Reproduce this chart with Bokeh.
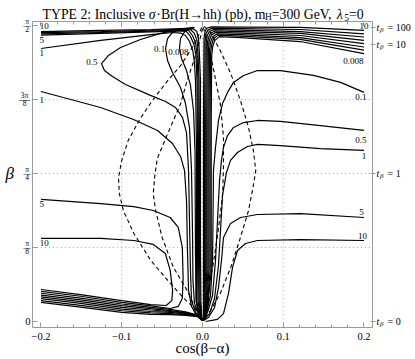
import math
from bokeh.plotting import figure
from bokeh.models import FixedTicker, LinearAxis, Label, Range1d, CustomJSTickFormatter
from bokeh.embed import file_html
from bokeh.resources import INLINE

SERIF = "Liberation Serif"

# ---------------- axis / tick data ----------------
X_LIM = (-0.21, 0.21)            # plotted cos(beta-alpha) range (frame)
B_LIM = (-0.030, 1.594)          # plotted beta range (frame)
X_MAJOR = [-0.2, -0.1, 0.0, 0.1, 0.2]
X_LABELS = ["\u22120.2", "\u22120.1", "0.0", "0.1", "0.2"]
X_MINOR = [-0.18, -0.16, -0.14, -0.12, -0.08, -0.06, -0.04, -0.02,
           0.02, 0.04, 0.06, 0.08, 0.12, 0.14, 0.16, 0.18]
B_TICKS = [0.0, math.pi / 8, math.pi / 4, 3 * math.pi / 8, math.pi / 2]
B_NUM = ["", "\u03c0", "\u03c0", "3\u03c0", "\u03c0"]
B_DEN = ["", "8", "4", "8", "2"]
TB_VALUES = [0, 1, 10, 100]
TB_LABELS = ["= 0", "= 1", "= 10", "= 100"]
GRID_X = [-0.1, 0.0, 0.1]
GRID_B = [math.pi / 8, math.pi / 4, 3 * math.pi / 8]

# ---------------- solid contours (x = cos(beta-alpha), b = beta) ----------------
TL0_X = [-0.200, -0.126, -0.064, -0.027, -0.012, -0.007, -0.005, -0.004, -0.0025, -0.0025, -0.0025, -0.002, -0.001, 0.000]
TL0_B = [1.539, 1.545, 1.550, 1.555, 1.555, 1.539, 1.502, 1.438, 1.279, 0.908, 0.377, 0.111, 0.032, 0.005]
TL1_X = [-0.200, -0.126, -0.064, -0.027, -0.015, -0.010, -0.0068, -0.0056, -0.0043, -0.0037, -0.0037, -0.0031, -0.0019, 0.000]
TL1_B = [1.533, 1.539, 1.546, 1.551, 1.550, 1.529, 1.492, 1.428, 1.279, 0.908, 0.377, 0.111, 0.032, 0.005]
TL2_X = [-0.200, -0.126, -0.064, -0.027, -0.0173, -0.0124, -0.0087, -0.0068, -0.0056, -0.0050, -0.0050, -0.0043, -0.0025, 0.000]
TL2_B = [1.527, 1.534, 1.541, 1.547, 1.545, 1.518, 1.481, 1.417, 1.279, 0.908, 0.377, 0.111, 0.032, 0.005]
TL3_X = [-0.200, -0.126, -0.064, -0.027, -0.0198, -0.0149, -0.0105, -0.0080, -0.0068, -0.0062, -0.0062, -0.0056, -0.0031, 0.000]
TL3_B = [1.520, 1.529, 1.537, 1.542, 1.539, 1.513, 1.470, 1.407, 1.279, 0.908, 0.377, 0.111, 0.032, 0.005]
TL4_X = [-0.200, -0.126, -0.064, -0.037, -0.027, -0.021, -0.016, -0.012, -0.010, -0.0087, -0.0074, -0.0074, -0.0074, -0.0037, 0.000]
TL4_B = [1.449, 1.492, 1.523, 1.534, 1.531, 1.518, 1.486, 1.438, 1.375, 1.279, 0.908, 0.377, 0.111, 0.037, 0.005]
L008_X = [-0.0124, -0.0211, -0.0272, -0.0285, -0.0260, -0.0198, -0.0149, -0.0111, -0.0093, -0.0087, -0.0080, -0.0050, 0.000]
L008_B = [1.561, 1.545, 1.502, 1.449, 1.396, 1.332, 1.253, 1.120, 0.908, 0.377, 0.111, 0.037, 0.005]
L01_X = [-0.0099, -0.0272, -0.0372, -0.0433, -0.0458, -0.0433, -0.0372, -0.0272, -0.0211, -0.0161, -0.0136, -0.0124, -0.0118, -0.0099, -0.0050, 0.000]
L01_B = [1.561, 1.553, 1.534, 1.502, 1.449, 1.385, 1.322, 1.242, 1.157, 1.030, 0.802, 0.483, 0.218, 0.096, 0.037, 0.005]
L05_X = [-0.0111, -0.0334, -0.0520, -0.0768, -0.1015, -0.1164, -0.1251, -0.1214, -0.1115, -0.0954, -0.0644,
         -0.0458, -0.0334, -0.0248, -0.0198, -0.0173, -0.0161, -0.0149, -0.0136, -0.0087, 0.000]
L05_B = [1.555, 1.545, 1.529, 1.497, 1.454, 1.412, 1.369, 1.332, 1.300, 1.258, 1.200,
         1.168, 1.136, 1.083, 1.003, 0.802, 0.536, 0.271, 0.111, 0.048, 0.005]
L1_X = [-0.200, -0.1263, -0.0854, -0.0557, -0.0372, -0.0272, -0.0223, -0.0198, -0.0186, -0.0173, -0.0136, -0.0074, 0.000]
L1_B = [1.221, 1.136, 1.072, 1.014, 0.945, 0.876, 0.802, 0.642, 0.377, 0.165, 0.080, 0.032, 0.005]
L5_X = [-0.200, -0.126, -0.085, -0.061, -0.040, -0.030, -0.025, -0.024, -0.025, -0.030, -0.040, -0.064, -0.100, -0.151, -0.200]
L5_B = [0.648, 0.626, 0.610, 0.589, 0.552, 0.499, 0.393, 0.234, 0.122, 0.080, 0.069, 0.083, 0.102, 0.134, 0.160]
L10_X = [-0.200, -0.126, -0.085, -0.061, -0.046, -0.040, -0.037, -0.038, -0.045, -0.064, -0.100, -0.151, -0.200]
L10_B = [0.441, 0.441, 0.430, 0.409, 0.361, 0.271, 0.165, 0.111, 0.085, 0.090, 0.111, 0.143, 0.170]
BUN_X = [-0.200, -0.151, -0.100, -0.064, -0.040, -0.021, -0.006, 0.000]
BUN2_B = [0.150, 0.124, 0.093, 0.075, 0.064, 0.051, 0.034, 0.005]
BUN3_B = [0.140, 0.115, 0.084, 0.068, 0.058, 0.047, 0.032, 0.005]
BUN4_B = [0.131, 0.105, 0.075, 0.061, 0.053, 0.044, 0.031, 0.005]
BUN5_B = [0.121, 0.096, 0.066, 0.053, 0.048, 0.040, 0.029, 0.005]
BUN6_B = [0.111, 0.086, 0.057, 0.046, 0.042, 0.036, 0.028, 0.005]
BUN7_B = [0.101, 0.076, 0.048, 0.038, 0.037, 0.032, 0.026, 0.005]
TR0_X = [0.200, 0.121, 0.047, 0.0110, 0.0056, 0.0031, 0.0019, 0.0012, 0.0012, 0.0012, 0.0012]
TR0_B = [1.545, 1.561, 1.563, 1.564, 1.558, 1.539, 1.502, 1.067, 0.271, 0.058, 0.005]
TR1_X = [0.200, 0.121, 0.047, 0.0125, 0.0069, 0.0045, 0.0032, 0.0026, 0.0026, 0.0019, 0.0012]
TR1_B = [1.527, 1.550, 1.555, 1.557, 1.548, 1.528, 1.489, 1.067, 0.271, 0.058, 0.005]
TR2_X = [0.200, 0.121, 0.047, 0.0139, 0.0083, 0.0058, 0.0046, 0.0040, 0.0040, 0.0026, 0.0012]
TR2_B = [1.510, 1.539, 1.547, 1.549, 1.539, 1.516, 1.476, 1.067, 0.271, 0.058, 0.005]
TR3_X = [0.200, 0.121, 0.047, 0.0152, 0.0097, 0.0072, 0.0059, 0.0053, 0.0053, 0.0033, 0.0012]
TR3_B = [1.492, 1.529, 1.539, 1.542, 1.529, 1.504, 1.462, 1.067, 0.271, 0.058, 0.005]
TR4_X = [0.200, 0.121, 0.047, 0.0166, 0.0110, 0.0085, 0.0073, 0.0067, 0.0067, 0.0040, 0.0012]
TR4_B = [1.475, 1.518, 1.531, 1.535, 1.520, 1.493, 1.449, 1.067, 0.271, 0.058, 0.005]
TR5_X = [0.200, 0.121, 0.047, 0.0180, 0.0124, 0.0099, 0.0087, 0.0080, 0.0080, 0.0046, 0.0012]
TR5_B = [1.457, 1.507, 1.523, 1.527, 1.510, 1.481, 1.436, 1.067, 0.271, 0.058, 0.005]
TR6_X = [0.200, 0.121, 0.047, 0.0193, 0.0137, 0.0113, 0.0100, 0.0094, 0.0094, 0.0053, 0.0012]
TR6_B = [1.440, 1.497, 1.515, 1.520, 1.501, 1.469, 1.423, 1.067, 0.271, 0.058, 0.005]
TR7_X = [0.200, 0.121, 0.047, 0.0207, 0.0151, 0.0126, 0.0114, 0.0108, 0.0108, 0.0060, 0.0012]
TR7_B = [1.422, 1.486, 1.507, 1.512, 1.491, 1.458, 1.409, 1.067, 0.271, 0.058, 0.005]
R01_X = [0.200, 0.171, 0.1375, 0.0966, 0.0681, 0.0508, 0.0384, 0.0310, 0.0248, 0.0198, 0.0161, 0.0136, 0.0130, 0.0124, 0.0099, 0.0050, 0.0012]
R01_B = [1.216, 1.269, 1.306, 1.332, 1.332, 1.306, 1.269, 1.216, 1.157, 1.067, 0.924, 0.802, 0.536, 0.324, 0.138, 0.048, 0.011]
R05_X = [0.200, 0.1461, 0.0966, 0.0681, 0.0508, 0.0384, 0.0310, 0.0260, 0.0235, 0.0211, 0.0186, 0.0161, 0.0124, 0.0062, 0.0012]
R05_B = [1.014, 1.040, 1.062, 1.067, 1.056, 1.030, 0.987, 0.924, 0.855, 0.748, 0.536, 0.324, 0.138, 0.048, 0.011]
R1_X = [0.200, 0.1461, 0.0966, 0.0681, 0.0557, 0.0433, 0.0347, 0.0297, 0.0248, 0.0223, 0.0198, 0.0149, 0.0087, 0.0025]
R1_B = [0.908, 0.918, 0.934, 0.940, 0.929, 0.897, 0.855, 0.791, 0.669, 0.483, 0.297, 0.122, 0.042, 0.011]
R5_X = [0.200, 0.1214, 0.0681, 0.0471, 0.0347, 0.0260, 0.0235, 0.0198, 0.0149, 0.0074, 0.0012]
R5_B = [0.552, 0.573, 0.568, 0.552, 0.520, 0.446, 0.324, 0.180, 0.074, 0.021, 0.005]
R10_X = [0.200, 0.1214, 0.0681, 0.0533, 0.0433, 0.0372, 0.0322, 0.0260, 0.0186, 0.0037]
R10_B = [0.430, 0.435, 0.430, 0.414, 0.377, 0.287, 0.149, 0.042, 0.011, 0.000]

# ---------------- dashed curves ----------------
D1_X = [-0.001, -0.006, -0.015, -0.027, -0.043, -0.062, -0.077, -0.092, -0.100, -0.104, -0.103, -0.098, -0.085, -0.064, -0.043, -0.024, -0.011, -0.002]
D1_B = [1.561, 1.507, 1.438, 1.359, 1.279, 1.173, 1.078, 0.961, 0.855, 0.764, 0.679, 0.589, 0.467, 0.324, 0.218, 0.127, 0.074, 0.032]
D2_X = [0.000, -0.005, -0.011, -0.019, -0.027, -0.043, -0.056, -0.059, -0.061, -0.058, -0.050, -0.036, -0.019, -0.009, -0.002]
D2_B = [1.555, 1.465, 1.380, 1.279, 1.157, 0.998, 0.865, 0.775, 0.679, 0.589, 0.446, 0.287, 0.165, 0.074, 0.037]
D3_X = [0.002, 0.010, 0.022, 0.035, 0.047, 0.057, 0.063, 0.066, 0.063, 0.057, 0.047, 0.035, 0.022, 0.010, 0.002]
D3_B = [1.566, 1.534, 1.438, 1.316, 1.173, 1.030, 0.908, 0.802, 0.722, 0.589, 0.446, 0.287, 0.149, 0.058, 0.016]
D4_X = [0.001, 0.006, 0.014, 0.022, 0.026, 0.026, 0.025, 0.020, 0.014, 0.007, 0.002]
D4_B = [1.561, 1.492, 1.332, 1.157, 0.977, 0.828, 0.679, 0.499, 0.324, 0.149, 0.027]

# ---------------- contour labels ----------------
CL_TEXT = ["10", "5", "1", "0.5", "1", "5", "10", "0.1", "0.008",
           "10", "0.008", "0.1", "0.5", "1", "5", "10"]
CL_X = [-0.196, -0.199, -0.199, -0.137, -0.199, -0.199, -0.196, -0.053, -0.030,
        0.200, 0.187, 0.196, 0.196, 0.200, 0.197, 0.198]
CL_B = [1.571, 1.494, 1.425, 1.375, 1.176, 0.624, 0.417, 1.446, 1.430,
        1.571, 1.385, 1.192, 0.963, 0.878, 0.581, 0.456]

# ---------------- figure: frame fills the canvas, axes fixed at the plot box ----------------
VIEW_X = (-0.25015, 0.26378)
VIEW_B = (-0.2017, 1.7038)
p = figure(width=415, height=359, x_range=Range1d(*VIEW_X), y_range=Range1d(*VIEW_B),
           x_axis_type=None, y_axis_type=None,
           output_backend="svg", toolbar_location=None, title=None, min_border=0)
p.outline_line_color = None
p.background_fill_color = "white"
p.border_fill_color = "white"

AX_COL = "#9a9a9a"
blank = CustomJSTickFormatter(code="return ''")

bottom = LinearAxis(fixed_location=B_LIM[0], bounds=X_LIM,
                    ticker=FixedTicker(ticks=X_MAJOR, minor_ticks=X_MINOR))
bottom.major_label_overrides = {v: s for v, s in zip(X_MAJOR, X_LABELS)}
bottom.major_label_text_font = SERIF
bottom.major_label_text_font_size = "10.5px"
bottom.major_label_text_color = "black"
bottom.major_label_standoff = 6
top = LinearAxis(fixed_location=B_LIM[1], bounds=X_LIM,
                 ticker=FixedTicker(ticks=X_MAJOR, minor_ticks=X_MINOR), formatter=blank)
left = LinearAxis(fixed_location=X_LIM[0], bounds=B_LIM,
                  ticker=FixedTicker(ticks=B_TICKS, minor_ticks=[]), formatter=blank)
right = LinearAxis(fixed_location=X_LIM[1], bounds=B_LIM,
                   ticker=FixedTicker(ticks=[math.atan(v) for v in TB_VALUES], minor_ticks=[]),
                   formatter=blank)
p.add_layout(bottom, "below")
p.add_layout(top, "above")
p.add_layout(left, "left")
p.add_layout(right, "right")
for ax in (bottom, left, top, right):
    ax.axis_line_color = AX_COL
    ax.major_tick_line_color = AX_COL
    ax.minor_tick_line_color = AX_COL
    ax.major_tick_in = 5
    ax.major_tick_out = 0
    ax.minor_tick_in = 3
    ax.minor_tick_out = 0
right.major_tick_in = 2
right.major_tick_out = 3

# dotted grid
p.segment(x0=GRID_X, y0=[B_LIM[0]] * len(GRID_X), x1=GRID_X, y1=[B_LIM[1]] * len(GRID_X),
          line_color="#a8a8a8", line_dash="1 3", line_width=1)
p.segment(x0=[X_LIM[0]] * len(GRID_B), y0=GRID_B, x1=[X_LIM[1]] * len(GRID_B), y1=GRID_B,
          line_color="#a8a8a8", line_dash="1 3", line_width=1)

solid_x = [TL0_X, TL1_X, TL2_X, TL3_X, TL4_X, L008_X, L01_X, L05_X, L1_X, L5_X, L10_X,
           BUN_X, BUN_X, BUN_X, BUN_X, BUN_X, BUN_X,
           TR0_X, TR1_X, TR2_X, TR3_X, TR4_X, TR5_X, TR6_X, TR7_X,
           R01_X, R05_X, R1_X, R5_X, R10_X]
solid_b = [TL0_B, TL1_B, TL2_B, TL3_B, TL4_B, L008_B, L01_B, L05_B, L1_B, L5_B, L10_B,
           BUN2_B, BUN3_B, BUN4_B, BUN5_B, BUN6_B, BUN7_B,
           TR0_B, TR1_B, TR2_B, TR3_B, TR4_B, TR5_B, TR6_B, TR7_B,
           R01_B, R05_B, R1_B, R5_B, R10_B]
p.multi_line(xs=solid_x, ys=solid_b, line_color="black", line_width=1.2)
p.multi_line(xs=[D1_X, D2_X, D3_X, D4_X], ys=[D1_B, D2_B, D3_B, D4_B],
             line_color="black", line_width=1.1, line_dash="4 3")


def txt(s, x, y, size, align="center", baseline="middle", style="normal"):
    p.add_layout(Label(x=x, y=y, text=s, text_font=SERIF, text_font_size=f"{size}px",
                       text_align=align, text_baseline=baseline, text_font_style=style,
                       text_color="black"))


for s, x, y in zip(CL_TEXT, CL_X, CL_B):
    txt(s, x, y, 9)

# title pieces
TB = 1.629
TS = 1.616
txt("TYPE 2: Inclusive ", -0.1981, TB, 13.8, "left", "alphabetic")
txt("\u03c3", -0.0666, TB, 13.8, "left", "alphabetic", "italic")
txt("\u00b7Br(H\u2192hh) (pb), m", -0.0572, TB, 13.8, "left", "alphabetic")
txt("H", 0.0773, TS, 9.5, "left", "alphabetic")
txt("=300 GeV, ", 0.0858, TB, 13.8, "left", "alphabetic")
txt("\u03bb", 0.1662, TB, 13.8, "left", "alphabetic", "italic")
txt("5", 0.1756, TS, 9.5, "left", "alphabetic")
txt("=0", 0.1815, TB, 13.8, "left", "alphabetic")

# axis titles
txt("cos(\u03b2\u2212\u03b1)", 0.0, -0.143, 15, "center", "alphabetic")
txt("\u03b2", -0.2439, 0.786, 17, "left", "middle", "italic")

# left tick labels (stacked fractions)
txt("0", -0.2130, 0.0, 10.5, "right", "middle")
for t, num, den in zip(B_TICKS[1:], B_NUM[1:], B_DEN[1:]):
    xc = -0.2204 if num == "3\u03c0" else -0.2173
    txt(num, xc, t + 0.0212, 7.5)
    txt("\u2014", xc, t + 0.0027, 11 if num == "3\u03c0" else 7.5)
    txt(den, xc, t - 0.0186, 7.5)

# right tick labels  t_beta = ...
for v, lab in zip(TB_VALUES, TB_LABELS):
    b = math.atan(v)
    txt("t", 0.2155, b, 10, "left", "middle", "italic")
    txt("\u03b2", 0.2198, b - 0.015, 7, "left", "middle", "italic")
    txt(lab, 0.2291, b, 10, "left", "middle")

open("out.html", "w").write(file_html(p, INLINE))
